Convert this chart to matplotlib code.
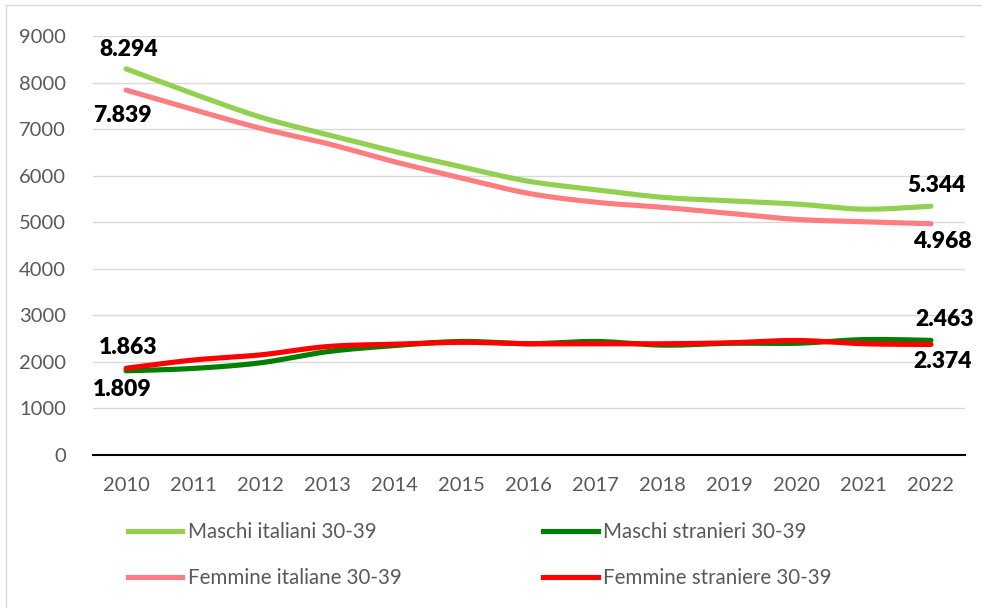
import numpy as np
import matplotlib
matplotlib.use("Agg")
import matplotlib.pyplot as plt
from matplotlib.lines import Line2D
from matplotlib.patches import Rectangle

plt.rcParams['font.family'] = ['Lato', 'DejaVu Sans']

years = [2010, 2011, 2012, 2013, 2014, 2015, 2016, 2017, 2018, 2019, 2020, 2021, 2022]

maschi_italiani = [8294, 7760, 7260, 6880, 6520, 6190, 5880, 5700, 5535, 5460, 5390, 5280, 5344]
femmine_italiane = [7839, 7420, 7020, 6690, 6300, 5950, 5620, 5430, 5320, 5190, 5060, 5010, 4968]
maschi_stranieri = [1809, 1860, 1980, 2220, 2350, 2440, 2390, 2440, 2360, 2400, 2400, 2480, 2463]
femmine_straniere = [1863, 2040, 2150, 2330, 2380, 2420, 2390, 2390, 2390, 2410, 2460, 2390, 2374]

series = [
    ("Maschi italiani 30-39", maschi_italiani, "#92D050"),
    ("Femmine italiane 30-39", femmine_italiane, "#FF7C80"),
    ("Maschi stranieri 30-39", maschi_stranieri, "#008000"),
    ("Femmine straniere 30-39", femmine_straniere, "#FF0000"),
]


def smooth(x, y, n=30):
    # Excel-like smoothed line: Catmull-Rom bezier segments
    x = np.asarray(x, float)
    y = np.asarray(y, float)
    px = np.concatenate([[x[0]], x, [x[-1]]])
    py = np.concatenate([[y[0]], y, [y[-1]]])
    xs, ys = [], []
    t = np.linspace(0, 1, n)
    for i in range(1, len(px) - 2):
        p0 = np.array([px[i], py[i]])
        p3 = np.array([px[i + 1], py[i + 1]])
        p1 = p0 + (np.array([px[i + 1], py[i + 1]]) - np.array([px[i - 1], py[i - 1]])) / 6
        p2 = p3 - (np.array([px[i + 2], py[i + 2]]) - np.array([px[i], py[i]])) / 6
        b = ((1 - t) ** 3)[:, None] * p0 + (3 * (1 - t) ** 2 * t)[:, None] * p1 \
            + (3 * (1 - t) * t ** 2)[:, None] * p2 + (t ** 3)[:, None] * p3
        xs.append(b[:, 0])
        ys.append(b[:, 1])
    return np.concatenate(xs), np.concatenate(ys)


fig = plt.figure(figsize=(9.82, 6.08), dpi=100)
ax = fig.add_axes([0.0942, 0.2516, 0.8880, 0.6892])

xi = np.arange(len(years))
for label, vals, col in series:
    sx, sy = smooth(xi, vals)
    ax.plot(sx, sy, color=col, lw=3.7, solid_capstyle='round', label=label)

ax.set_xlim(-0.5, len(years) - 0.5)
ax.set_ylim(0, 9000)
ax.set_yticks(np.arange(0, 9001, 1000))
ax.set_xticks(xi)
ax.set_xticklabels([str(y) for y in years])
ax.tick_params(axis='both', length=0, labelsize=14.5, labelcolor='#595959')
ax.tick_params(axis='y', pad=19)
ax.tick_params(axis='x', pad=16)
ax.grid(axis='y', color='#D9D9D9', lw=1)
ax.set_axisbelow(True)
for s in ['top', 'right', 'left']:
    ax.spines[s].set_visible(False)
ax.spines['bottom'].set_color('black')
ax.spines['bottom'].set_linewidth(1.5)

# data labels at first and last year
offsets = {
    "Maschi italiani 30-39": [(3, 19), (6, 21)],
    "Femmine italiane 30-39": [(-4, -25), (11, -18)],
    "Maschi stranieri 30-39": [(-4, -19), (14, 21)],
    "Femmine straniere 30-39": [(2, 21), (12, -17)],
}
for label, vals, col in series:
    for (idx, off) in zip([0, len(vals) - 1], offsets[label]):
        ax.annotate(f"{vals[idx]:,}".replace(",", "."), (idx, vals[idx]),
                    xytext=off, textcoords='offset pixels', ha='center', va='center',
                    fontsize=16.5, fontweight='heavy', color='black')

handles = [Line2D([], [], color=c, lw=3.7) for _, _, c in series]
fig.legend(handles, [s[0] for s in series], loc='upper left',
           bbox_to_anchor=(0.122, 0.905 - 0.75), ncol=2, frameon=False,
           fontsize=14.8, handlelength=2.65, handletextpad=0.25,
           columnspacing=6.9, labelspacing=1.27, borderaxespad=0,
           labelcolor='#595959')

fig.add_artist(Rectangle((6 / 982, -0.05), 1.2, 1.05 - 5 / 608, transform=fig.transFigure,
                         fill=False, edgecolor='#D9D9D9', lw=1))

fig.savefig("out.png", dpi=100)
